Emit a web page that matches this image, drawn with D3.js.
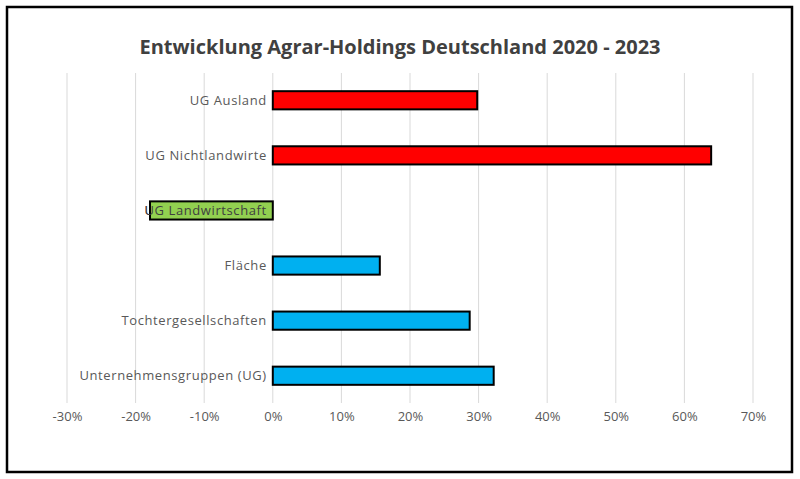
<!DOCTYPE html>
<meta charset="utf-8">
<script src="https://cdn.jsdelivr.net/npm/d3@7"></script>
<style>
  body { margin: 0; background: #fff; }
  text { font-family: "Open Sans", "Noto Sans", sans-serif; }
</style>
<div id="chart"></div>
<script>
  // Data
  const categories = ["UG Ausland", "UG Nichtlandwirte", "UG Landwirtschaft", "Fläche", "Tochtergesellschaften", "Unternehmensgruppen (UG)"];
  const values = [29.8, 63.9, -17.9, 15.6, 28.7, 32.2];
  const colors = ["#ff0000", "#ff0000", "#92d050", "#00b0f0", "#00b0f0", "#00b0f0"];
  const ticks = [-30, -20, -10, 0, 10, 20, 30, 40, 50, 60, 70];

  const svg = d3.select("#chart").append("svg")
    .attr("width", 800).attr("height", 479);

  // frame
  svg.append("rect")
    .attr("x", 7).attr("y", 7).attr("width", 785).attr("height", 465)
    .attr("fill", "#fff").attr("stroke", "#000").attr("stroke-width", 2.5);

  svg.append("text")
    .attr("x", 400).attr("y", 54)
    .attr("text-anchor", "middle")
    .attr("font-size", 20).attr("font-weight", "bold")
    .attr("fill", "#404040")
    .text("Entwicklung Agrar-Holdings Deutschland 2020 - 2023");

  const x = d3.scaleLinear().domain([-30, 70]).range([67, 753]);
  const y = d3.scaleBand().domain(categories).range([73, 403]).paddingInner(0.67).paddingOuter(0.33);

  // gridlines
  svg.append("g").selectAll("line").data(ticks).join("line")
    .attr("x1", d => x(d)).attr("x2", d => x(d))
    .attr("y1", 73).attr("y2", 403)
    .attr("stroke", "#d9d9d9").attr("stroke-width", 1);

  // x axis labels
  const xAxis = svg.append("g")
    .attr("transform", "translate(0,403)")
    .call(d3.axisBottom(x).tickValues(ticks).tickFormat(d => d + "%").tickSize(0).tickPadding(9));
  xAxis.select(".domain").remove();
  xAxis.selectAll("text").attr("font-size", 13).attr("fill", "#595959")
    .attr("font-family", "'Open Sans', sans-serif");

  // category labels
  svg.append("g").selectAll("text").data(categories).join("text")
    .attr("x", x(0) - 6)
    .attr("y", d => y(d) + y.bandwidth() / 2)
    .attr("dy", "0.35em")
    .attr("text-anchor", "end")
    .attr("font-size", 13).attr("letter-spacing", 0.6)
    .attr("fill", "#595959")
    .text(d => d);

  // bars (drawn after labels, like the reference where the green bar covers its label)
  svg.append("g").selectAll("rect").data(values).join("rect")
    .attr("x", d => x(Math.min(0, d)))
    .attr("y", (d, i) => y(categories[i]))
    .attr("width", d => Math.abs(x(d) - x(0)))
    .attr("height", y.bandwidth())
    .attr("fill", (d, i) => colors[i])
    .attr("stroke", "#000").attr("stroke-width", 2);

  // label text over green bar shows through in reference
  svg.append("text")
    .attr("x", x(0) - 6)
    .attr("y", y(categories[2]) + y.bandwidth() / 2)
    .attr("dy", "0.35em")
    .attr("text-anchor", "end")
    .attr("font-size", 13).attr("letter-spacing", 0.6)
    .attr("fill", "#404040")
    .text(categories[2]);
</script>
